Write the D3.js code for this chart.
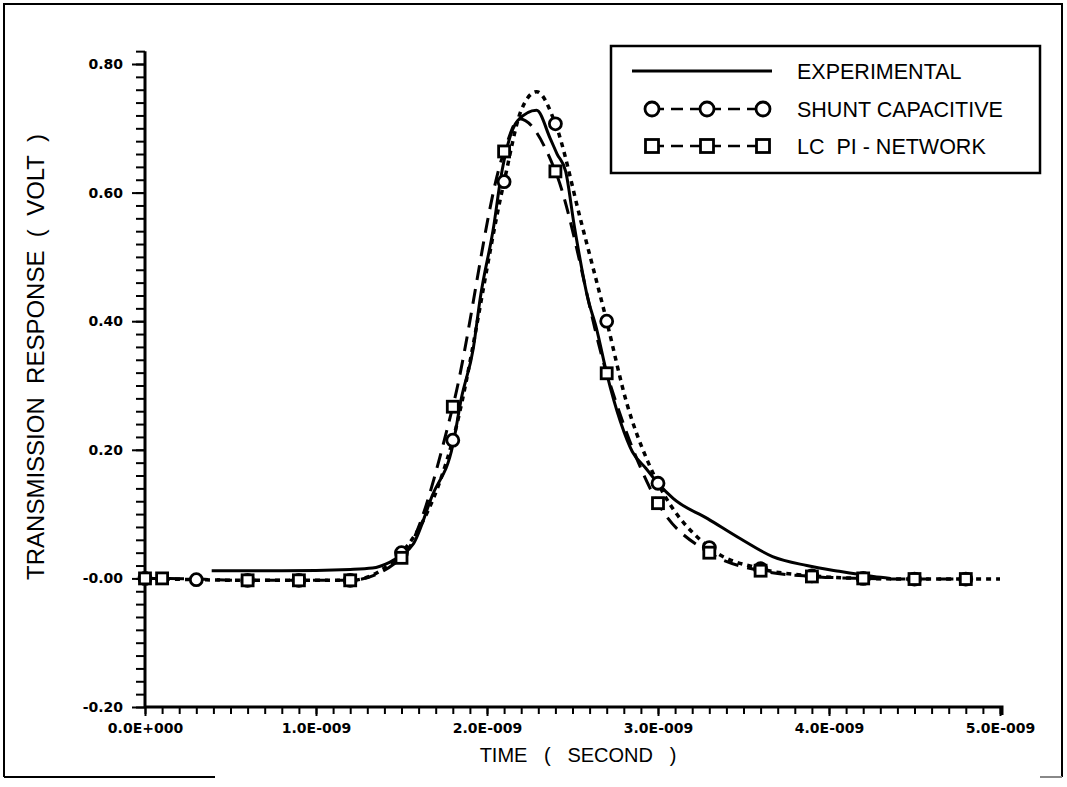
<!DOCTYPE html>
<html>
<head>
<meta charset="utf-8">
<script src="https://cdn.jsdelivr.net/npm/d3@7/dist/d3.min.js"></script>
<style>
  html, body { margin: 0; padding: 0; background: #fff; }
  svg { display: block; }
  text { fill: #000; }
</style>
</head>
<body>
<svg id="chart" width="1067" height="787"></svg>
<script>
// Time axis in nanoseconds, response in volts
const xTickValues = [0, 1, 2, 3, 4, 5];
const xTickLabels = ["0.0E+000", "1.0E-009", "2.0E-009", "3.0E-009", "4.0E-009", "5.0E-009"];
const yTickValues = [-0.2, 0, 0.2, 0.4, 0.6, 0.8];
const yTickLabels = ["-0.20", "-0.00", "0.20", "0.40", "0.60", "0.80"];

// Measured transmission response
const expTime = [0.39, 0.8, 1.2, 1.33, 1.43, 1.5, 1.57, 1.68, 1.8, 1.85, 1.92, 1.96, 2.04, 2.08, 2.12, 2.18, 2.29,
                 2.37, 2.41, 2.46, 2.51, 2.59, 2.64, 2.70, 2.78, 2.85, 2.93, 3.0, 3.09, 3.29, 3.48, 3.67, 3.87, 4.06, 4.26, 4.36];
const expVolt = [0.012, 0.012, 0.014, 0.016, 0.025, 0.036, 0.054, 0.129, 0.207, 0.28, 0.358, 0.435, 0.549, 0.622, 0.673, 0.712, 0.728,
                 0.684, 0.660, 0.633, 0.549, 0.435, 0.389, 0.319, 0.244, 0.197, 0.171, 0.148, 0.124, 0.093, 0.062, 0.034, 0.020, 0.011, 0.003, 0.0];

// Shunt capacitive model
const shuntTime = [0, 0.3, 0.6, 0.9, 1.2, 1.5, 1.8, 2.1, 2.2, 2.29, 2.4, 2.55, 2.7, 2.82, 2.94, 3.0, 3.3, 3.6, 3.9, 4.2, 4.5, 4.8, 5.0];
const shuntVolt = [0, -0.002, -0.003, -0.003, -0.003, 0.040, 0.215, 0.617, 0.728, 0.757, 0.707, 0.555, 0.400, 0.270, 0.182, 0.148, 0.048, 0.015, 0.004, 0.0, -0.001, -0.001, -0.001];
const shuntMarkerTimes = [0, 0.3, 0.6, 0.9, 1.2, 1.5, 1.8, 2.1, 2.4, 2.7, 3.0, 3.3, 3.6, 3.9, 4.2, 4.5, 4.8];

// LC pi-network model
const lcTime = [0, 0.1, 0.6, 0.9, 1.2, 1.5, 1.8, 2.1, 2.19, 2.4, 2.7, 3.0, 3.3, 3.6, 3.9, 4.2, 4.5, 4.8];
const lcVolt = [0, 0, -0.003, -0.003, -0.003, 0.032, 0.267, 0.664, 0.715, 0.633, 0.319, 0.117, 0.040, 0.012, 0.003, 0.0, -0.001, -0.001];
const lcMarkerTimes = [0, 0.1, 0.6, 0.9, 1.2, 1.5, 1.8, 2.1, 2.4, 2.7, 3.0, 3.3, 3.6, 3.9, 4.2, 4.5, 4.8];

const legendLabels = ["EXPERIMENTAL", "SHUNT CAPACITIVE", "LC  PI - NETWORK"];

const svg = d3.select("#chart");
const x = d3.scaleLinear().domain([0, 5]).range([145, 1000]);
const y = d3.scaleLinear().domain([-0.2, 0.8]).range([707, 64]);

// outer frame
const frame = svg.append("g").attr("stroke", "#000").attr("stroke-width", 2).attr("fill", "none");
frame.append("path").attr("d", "M4,777 V4 H1062 V777");
frame.append("path").attr("d", "M4,777 H215");
frame.append("path").attr("d", "M1040,777 H1062").attr("stroke", "#888");

const tickFont = "'DejaVu Sans', sans-serif";

// x axis: minor ticks every 0.1 ns, labelled majors every 1 ns
const xMinor = d3.range(0, 50.5, 1).map(d => d / 10);
const xAxisG = svg.append("g").attr("transform", `translate(0,${y(-0.2)})`);
xAxisG.call(d3.axisBottom(x).tickValues(xMinor).tickSize(7).tickSizeOuter(0).tickFormat(""));
xAxisG.select(".domain").attr("d", `M${x(0)},0H${x(5) + 2}V8`);
xAxisG.selectAll("line").attr("stroke-width", 2);
xAxisG.selectAll(".domain").attr("stroke-width", 3);
const xMajorG = svg.append("g").attr("transform", `translate(0,${y(-0.2)})`);
xMajorG.call(d3.axisBottom(x).tickValues(xTickValues).tickSize(9).tickFormat((d, i) => xTickLabels[i]));
xMajorG.select(".domain").remove();
xMajorG.selectAll("line").attr("stroke-width", 2);
xMajorG.selectAll("text")
  .attr("font-family", tickFont).attr("font-weight", "bold").attr("font-size", 14)
  .attr("dy", "0.95em").attr("y", 13);

// y axis: minor ticks every 0.02 V, labelled majors every 0.2 V
const yMinor = d3.range(-10, 42, 1).map(d => d / 50);
const yAxisG = svg.append("g").attr("transform", `translate(${x(0)},0)`);
yAxisG.call(d3.axisLeft(y).tickValues(yMinor).tickSize(9).tickSizeOuter(0).tickFormat(""));
yAxisG.select(".domain").attr("d", `M0,${y(0.82)}V${y(-0.2)}`).attr("stroke-width", 3);
yAxisG.selectAll("line").attr("stroke-width", 2);
const yMajorG = svg.append("g").attr("transform", `translate(${x(0)},0)`);
yMajorG.call(d3.axisLeft(y).tickValues(yTickValues).tickSize(13).tickFormat((d, i) => yTickLabels[i]));
yMajorG.select(".domain").remove();
yMajorG.selectAll("line").attr("stroke-width", 2);
yMajorG.selectAll("text")
  .attr("font-family", tickFont).attr("font-weight", "bold").attr("font-size", 14)
  .attr("x", -22);

svg.selectAll(".tick text").attr("fill", "#000");
svg.selectAll(".domain, .tick line").attr("stroke", "#000");

// axis titles
const titleFont = "'Liberation Sans', Arial, sans-serif";
svg.append("text")
  .attr("x", 578).attr("y", 762)
  .attr("text-anchor", "middle")
  .attr("font-family", titleFont).attr("font-size", 20)
  .style("white-space", "pre")
  .text("TIME   (   SECOND   )");
svg.append("text")
  .attr("transform", "translate(44,357) rotate(-90)")
  .attr("text-anchor", "middle")
  .attr("font-family", titleFont).attr("font-size", 24)
  .style("white-space", "pre")
  .text("TRANSMISSION  RESPONSE  (  VOLT  )");

// series
const toPoints = (ts, vs) => ts.map((t, i) => ({ t, v: vs[i] }));
const line = d3.line().x(d => x(d.t)).y(d => y(d.v)).curve(d3.curveMonotoneX);

const plot = svg.append("g").attr("fill", "none").attr("stroke", "#000");

plot.append("path")
  .datum(toPoints(lcTime, lcVolt))
  .attr("d", line)
  .attr("stroke-width", 3)
  .attr("stroke-dasharray", "15,9");

plot.append("path")
  .datum(toPoints(shuntTime, shuntVolt))
  .attr("d", line)
  .attr("stroke-width", 3.5)
  .attr("stroke-dasharray", "5,5");

plot.append("path")
  .datum(toPoints(expTime, expVolt))
  .attr("d", line)
  .attr("stroke-width", 3);

const marked = (ts, vs, keep) => toPoints(ts, vs).filter(p => keep.some(k => Math.abs(k - p.t) < 1e-9));

plot.selectAll("circle.shunt")
  .data(marked(shuntTime, shuntVolt, shuntMarkerTimes))
  .join("circle")
  .attr("class", "shunt")
  .attr("cx", d => x(d.t)).attr("cy", d => y(d.v))
  .attr("r", 6)
  .attr("fill", "#fff")
  .attr("stroke-width", 2.8);

plot.selectAll("rect.lc")
  .data(marked(lcTime, lcVolt, lcMarkerTimes))
  .join("rect")
  .attr("class", "lc")
  .attr("x", d => x(d.t) - 5.5).attr("y", d => y(d.v) - 5.5)
  .attr("width", 11).attr("height", 11)
  .attr("fill", "#fff")
  .attr("stroke-width", 2.8);

// legend
const lg = svg.append("g");
lg.append("rect")
  .attr("x", 611).attr("y", 46).attr("width", 429).attr("height", 127)
  .attr("fill", "#fff").attr("stroke", "#000").attr("stroke-width", 2.5);

const rowY = [71, 109, 146];
lg.append("line").attr("x1", 632).attr("x2", 772).attr("y1", rowY[0]).attr("y2", rowY[0])
  .attr("stroke", "#000").attr("stroke-width", 3);

const sampleX = [652, 707, 763];
[1, 2].forEach(r => {
  lg.append("line").attr("x1", sampleX[0]).attr("x2", sampleX[2]).attr("y1", rowY[r]).attr("y2", rowY[r])
    .attr("stroke", "#000").attr("stroke-width", 2.5).attr("stroke-dasharray", "12,7");
});
lg.selectAll("circle.key").data(sampleX).join("circle")
  .attr("class", "key")
  .attr("cx", d => d).attr("cy", rowY[1]).attr("r", 7)
  .attr("fill", "#fff").attr("stroke", "#000").attr("stroke-width", 2.8);
lg.selectAll("rect.key").data(sampleX).join("rect")
  .attr("class", "key")
  .attr("x", d => d - 6.5).attr("y", rowY[2] - 6.5).attr("width", 13).attr("height", 13)
  .attr("fill", "#fff").attr("stroke", "#000").attr("stroke-width", 2.8);

lg.selectAll("text").data(legendLabels).join("text")
  .attr("x", 797).attr("y", (d, i) => rowY[i])
  .attr("dy", "0.36em")
  .attr("font-family", titleFont).attr("font-size", 21.5)
  .style("white-space", "pre")
  .text(d => d);
</script>
</body>
</html>
